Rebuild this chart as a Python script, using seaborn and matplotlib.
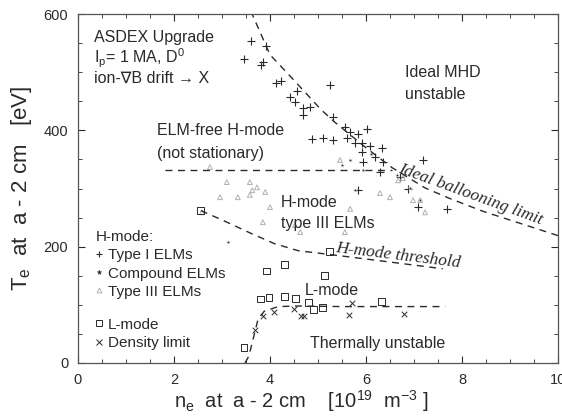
import numpy as np
import pandas as pd
import matplotlib
matplotlib.use("Agg")
import matplotlib.pyplot as plt
from matplotlib.lines import Line2D
import seaborn as sns

# ---------------- data ----------------
type1_n = [3.60, 3.92, 3.46, 3.85, 3.81, 4.13, 4.23, 4.42, 4.56, 4.52, 4.69, 4.83, 4.69,
           5.25, 5.31, 5.56, 5.67, 5.83, 6.02, 4.88, 5.10, 5.31, 5.60, 5.77, 5.92, 6.08,
           6.33, 5.92, 5.94, 6.19, 6.35, 6.29, 6.71, 6.88, 5.83, 7.69, 7.19, 7.08]
type1_T = [553, 545, 522, 517, 512, 481, 485, 457, 467, 448, 438, 440, 426,
           478, 423, 405, 397, 393, 402, 385, 387, 383, 387, 378, 378, 373,
           369, 363, 345, 354, 345, 328, 320, 299, 297, 265, 349, 268]

comp_n = [3.13, 5.67, 5.94, 6.65, 6.92, 5.77, 7.13, 6.10, 5.50]
comp_T = [208, 349, 332, 323, 301, 297, 280, 360, 340]

type3_n = [2.75, 3.10, 3.33, 3.58, 3.63, 3.58, 3.73, 3.90, 4.00, 2.96, 2.58, 3.85,
           4.52, 4.63, 5.56, 6.29, 6.50, 6.67, 6.77, 7.13, 5.67, 5.46, 7.23, 6.98]
type3_T = [337, 311, 285, 311, 297, 289, 302, 294, 268, 285, 259, 242,
           237, 225, 225, 292, 285, 314, 318, 280, 265, 349, 259, 280]

lmode_n = [2.56, 3.46, 3.80, 3.98, 3.92, 4.30, 4.30, 4.53, 4.80, 4.90, 5.10, 5.14, 5.24, 6.33]
lmode_T = [262, 26, 110, 113, 158, 170, 115, 111, 104, 92, 96, 150, 191, 106]

dlim_n = [3.69, 3.86, 4.09, 4.49, 4.65, 4.70, 5.70, 5.64, 6.80]
dlim_T = [56, 80, 87, 92, 80, 80, 104, 83, 85]

# boundary curves
ball_n = [3.60, 4.00, 4.49, 5.07, 5.35, 6.00, 6.54, 7.23, 7.74, 8.43, 10.0]
ball_T = [605, 530, 487, 435, 414, 370, 336, 301, 283, 261, 219]

elmfree_n = [1.82, 6.55]
elmfree_T = [332, 332]

thr_n = [2.56, 3.00, 3.60, 4.10, 4.59, 5.20, 6.27, 7.60]
thr_T = [262, 246, 223, 205, 193, 187, 176, 162]

lm_n = [3.48, 3.56, 3.66, 3.75, 3.88, 4.17, 4.60, 5.50, 6.50, 7.65]
lm_T = [0, 12, 45, 75, 89, 97, 98, 97, 97, 97]

# ---------------- figure ----------------
sns.set_theme(style="ticks")
plt.rcParams["font.family"] = ["Liberation Sans", "DejaVu Sans"]
plt.rcParams["mathtext.default"] = "regular"

fig = plt.figure(figsize=(5.62, 4.18), dpi=100)
ax = fig.add_axes([78 / 562, 1 - 363 / 418, 480 / 562, 349 / 418])

ink = "#2a2a2a"
lkw = dict(color=ink, lw=1.0, linestyle=(0, (5, 4)), sort=False, ax=ax, legend=False)
sns.lineplot(x=ball_n, y=ball_T, **lkw)
sns.lineplot(x=elmfree_n, y=elmfree_T, **lkw)
sns.lineplot(x=thr_n, y=thr_T, **lkw)
sns.lineplot(x=lm_n, y=lm_T, **lkw)

sns.scatterplot(x=type1_n, y=type1_T, marker="+", s=26, color=ink, linewidth=0.8, ax=ax)
sns.scatterplot(x=comp_n, y=comp_T, marker="*", s=12, color=ink, linewidth=0.3, ax=ax)
sns.scatterplot(x=type3_n, y=type3_T, marker="^", s=12, facecolor="none",
                edgecolor="#b0b0b0", linewidth=0.7, ax=ax)
sns.scatterplot(x=lmode_n, y=lmode_T, marker="s", s=24, facecolor="none",
                edgecolor=ink, linewidth=0.7, ax=ax)
sns.scatterplot(x=dlim_n, y=dlim_T, marker="x", s=16, color=ink, linewidth=0.7, ax=ax)

ax.set_xlim(0, 10)
ax.set_ylim(0, 600)
ax.set_xticks([0, 2, 4, 6, 8, 10])
ax.set_yticks([0, 200, 400, 600])
ax.set_xticks(np.arange(0, 10.01, 0.5), minor=True)
ax.set_yticks(np.arange(0, 601, 50), minor=True)
ax.tick_params(which="both", direction="in", top=True, right=True, color=ink)
ax.tick_params(which="major", length=5, width=0.8, labelsize=10.5, pad=7, labelcolor=ink)
ax.tick_params(which="minor", length=3, width=0.6)
for sp in ax.spines.values():
    sp.set_color("#555555")
    sp.set_linewidth(0.9)

ax.set_xlabel(r"n$_{e}$  at  a - 2 cm    [10$^{19}$  m$^{-3}$ ]", fontsize=14.5, color=ink)
ax.xaxis.set_label_coords((301 - 78) / 480, -0.071)
ax.set_ylabel(r"T$_{e}$  at  a - 2 cm   [eV]", fontsize=16, color=ink)
ax.yaxis.set_label_coords(-0.092, 0.5)

tk = dict(fontsize=11.5, color=ink, family=["Liberation Sans", "DejaVu Sans"], va="baseline")
ax.text(0.33, 552, "ASDEX Upgrade", **tk)
ax.text(0.33, 516, r"I$_{p}$= 1 MA, D$^{0}$", **tk)
ax.text(0.33, 481, "ion-\u2207B drift \u2192 X", **tk)
ax.text(6.81, 492, "Ideal MHD", **tk)
ax.text(6.81, 454, "unstable", **tk)
ax.text(1.65, 392, "ELM-free H-mode", **tk)
ax.text(1.65, 352, "(not stationary)", **tk)
ax.text(4.23, 268, "H-mode", **tk)
ax.text(4.23, 232, "type III ELMs", **tk)
ax.text(4.73, 117, "L-mode", **tk)
ax.text(4.83, 26, "Thermally unstable", **tk)

sk = dict(fontsize=12.5, color=ink, family="Liberation Serif", style="italic")
ax.text(6.65, 328, "Ideal ballooning limit", rotation=-20, rotation_mode="anchor",
        va="baseline", ha="left", **sk)
ax.text(5.35, 191, "H-mode threshold", rotation=-7, rotation_mode="anchor",
        va="baseline", ha="left", **sk)

h1 = [Line2D([], [], marker="+", ls="", color=ink, ms=5, mew=0.8),
      Line2D([], [], marker="*", ls="", color=ink, ms=3.5, mew=0.3),
      Line2D([], [], marker="^", ls="", mfc="none", mec="#b0b0b0", ms=3.5, mew=0.7)]
leg1 = ax.legend(h1, ["Type I ELMs", "Compound ELMs", "Type III ELMs"], title="H-mode:",
                 loc="upper left", bbox_to_anchor=(0.021, 0.403), frameon=False,
                 fontsize=11, title_fontsize=11, alignment="left", handlelength=0.4,
                 handletextpad=0.4, labelspacing=0.28, borderpad=0.2, borderaxespad=0.3)
for t in leg1.get_texts() + [leg1.get_title()]:
    t.set_color(ink)
ax.add_artist(leg1)
h2 = [Line2D([], [], marker="s", ls="", mfc="none", mec=ink, ms=4.5, mew=0.7),
      Line2D([], [], marker="x", ls="", color=ink, ms=4, mew=0.7)]
leg2 = ax.legend(h2, ["L-mode", "Density limit"], loc="upper left",
                 bbox_to_anchor=(0.021, 0.152), frameon=False, fontsize=11,
                 handlelength=0.4, handletextpad=0.4, labelspacing=0.28,
                 borderpad=0.2, borderaxespad=0.3)
for t in leg2.get_texts():
    t.set_color(ink)

fig.savefig("out.png", dpi=100)
